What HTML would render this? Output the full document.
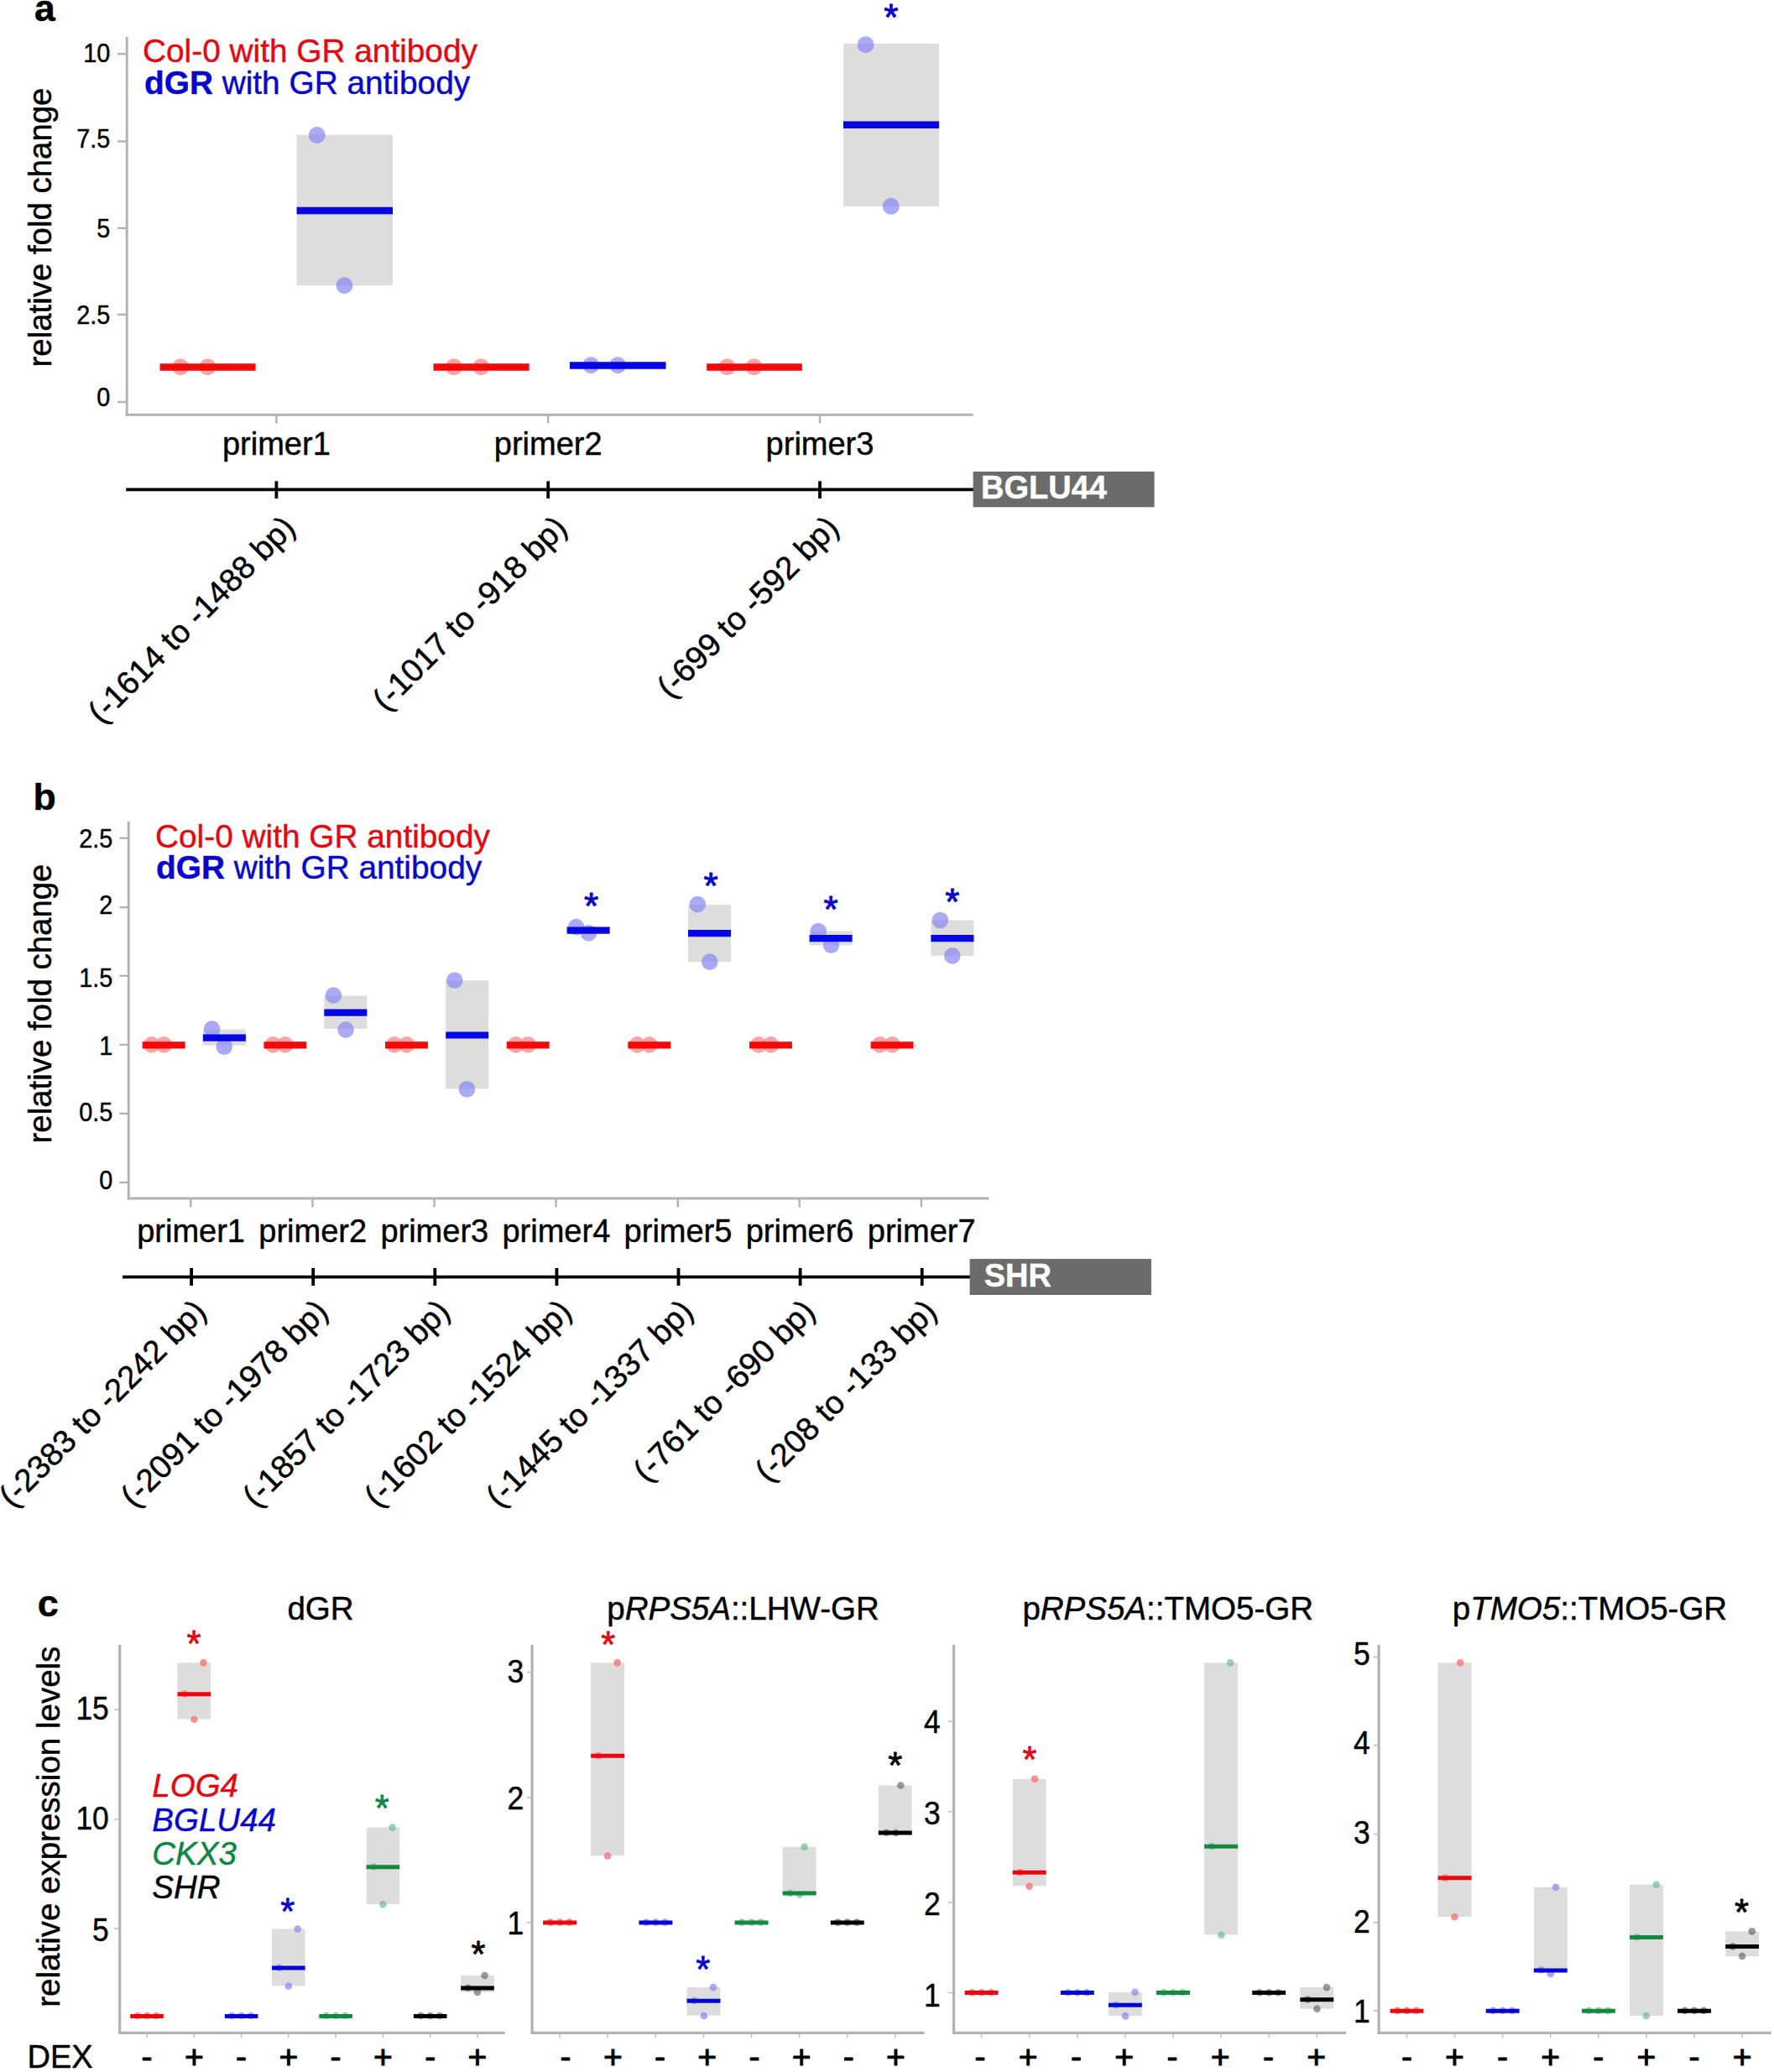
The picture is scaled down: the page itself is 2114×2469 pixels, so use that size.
<!DOCTYPE html>
<html lang="en">
<head>
<meta charset="utf-8">
<title>Figure</title>
<style>
html,body{margin:0;padding:0;background:#fff;}
body{width:2114px;height:2469px;overflow:hidden;}
svg{display:block;font-family:"Liberation Sans", sans-serif;}
text{stroke-width:0.45px;stroke-linejoin:round;}
</style>
</head>
<body>
<svg width="2114" height="2469" viewBox="0 0 2114 2469">
<rect x="0" y="0" width="2114" height="2469" fill="#ffffff"/>
<text x="41.0" y="24.6" font-size="44.5" fill="#000" stroke="#000" font-weight="bold">a</text>
<line x1="151.2" y1="44.0" x2="151.2" y2="495.6" stroke="#b2b2b2" stroke-width="2.9"/>
<line x1="149.7" y1="494.2" x2="1159.6" y2="494.2" stroke="#b2b2b2" stroke-width="2.9"/>
<line x1="140.0" y1="64.3" x2="151.0" y2="64.3" stroke="#b2b2b2" stroke-width="2.4"/>
<text x="0.0" y="0.0" font-size="31" fill="#000" stroke="#000" text-anchor="end" transform="translate(131.2 74.2) scale(0.93 1)">10</text>
<line x1="140.0" y1="168.5" x2="151.0" y2="168.5" stroke="#b2b2b2" stroke-width="2.4"/>
<text x="0.0" y="0.0" font-size="31" fill="#000" stroke="#000" text-anchor="end" transform="translate(131.2 176.1) scale(0.93 1)">7.5</text>
<line x1="140.0" y1="271.9" x2="151.0" y2="271.9" stroke="#b2b2b2" stroke-width="2.4"/>
<text x="0.0" y="0.0" font-size="31" fill="#000" stroke="#000" text-anchor="end" transform="translate(131.2 283.2) scale(0.93 1)">5</text>
<line x1="140.0" y1="374.9" x2="151.0" y2="374.9" stroke="#b2b2b2" stroke-width="2.4"/>
<text x="0.0" y="0.0" font-size="31" fill="#000" stroke="#000" text-anchor="end" transform="translate(131.2 385.7) scale(0.93 1)">2.5</text>
<line x1="140.0" y1="479.0" x2="151.0" y2="479.0" stroke="#b2b2b2" stroke-width="2.4"/>
<text x="0.0" y="0.0" font-size="31" fill="#000" stroke="#000" text-anchor="end" transform="translate(131.2 483.8) scale(0.93 1)">0</text>
<text x="0.0" y="0.0" font-size="38.4" fill="#000" stroke="#000" text-anchor="middle" transform="translate(60.5 271) rotate(-90)">relative fold change</text>
<text x="170.0" y="73.8" font-size="38.8" fill="#e20a12" stroke="#e20a12">Col-0 with GR antibody</text>
<text x="172" y="111.7" font-size="38.8" fill="#0808cc" stroke="#0808cc"><tspan font-weight="bold">dGR</tspan> with GR antibody</text>
<line x1="329.4" y1="494.2" x2="329.4" y2="504.5" stroke="#b2b2b2" stroke-width="2.4"/>
<text x="329.4" y="541.8" font-size="38" fill="#000" stroke="#000" text-anchor="middle">primer1</text>
<line x1="653.2" y1="494.2" x2="653.2" y2="504.5" stroke="#b2b2b2" stroke-width="2.4"/>
<text x="653.2" y="541.8" font-size="38" fill="#000" stroke="#000" text-anchor="middle">primer2</text>
<line x1="977.0" y1="494.2" x2="977.0" y2="504.5" stroke="#b2b2b2" stroke-width="2.4"/>
<text x="977.0" y="541.8" font-size="38" fill="#000" stroke="#000" text-anchor="middle">primer3</text>
<circle cx="215.0" cy="437.2" r="10" fill="#f87c7c" fill-opacity="0.69"/>
<circle cx="247.4" cy="437.2" r="10" fill="#f87c7c" fill-opacity="0.69"/>
<line x1="190.6" y1="437.6" x2="304.6" y2="437.6" stroke="#f20a0a" stroke-width="8.5"/>
<rect x="353.6" y="160.6" width="114.4" height="179.6" fill="#dddddd"/>
<circle cx="377.7" cy="161.0" r="10" fill="#8484f2" fill-opacity="0.69"/>
<circle cx="410.4" cy="340.2" r="10" fill="#8484f2" fill-opacity="0.69"/>
<line x1="353.6" y1="251.0" x2="468.0" y2="251.0" stroke="#0606e2" stroke-width="8.5"/>
<circle cx="540.9" cy="437.2" r="10" fill="#f87c7c" fill-opacity="0.69"/>
<circle cx="573.3" cy="437.2" r="10" fill="#f87c7c" fill-opacity="0.69"/>
<line x1="516.5" y1="437.6" x2="630.6" y2="437.6" stroke="#f20a0a" stroke-width="8.5"/>
<circle cx="704.2" cy="435.2" r="10" fill="#8484f2" fill-opacity="0.69"/>
<circle cx="736.2" cy="435.2" r="10" fill="#8484f2" fill-opacity="0.69"/>
<line x1="678.9" y1="435.6" x2="793.5" y2="435.6" stroke="#0606e2" stroke-width="8.5"/>
<circle cx="866.5" cy="437.2" r="10" fill="#f87c7c" fill-opacity="0.69"/>
<circle cx="898.5" cy="437.2" r="10" fill="#f87c7c" fill-opacity="0.69"/>
<line x1="842.2" y1="437.6" x2="955.8" y2="437.6" stroke="#f20a0a" stroke-width="8.5"/>
<rect x="1005.0" y="51.9" width="114.0" height="193.9" fill="#dddddd"/>
<circle cx="1031.6" cy="53.2" r="10" fill="#8484f2" fill-opacity="0.69"/>
<circle cx="1061.8" cy="245.8" r="10" fill="#8484f2" fill-opacity="0.69"/>
<line x1="1005.0" y1="148.8" x2="1119.0" y2="148.8" stroke="#0606e2" stroke-width="8.5"/>
<text x="1061.8" y="36.2" font-size="44" fill="#0808cc" stroke="#0808cc" text-anchor="middle" style="stroke-width:1.0px">*</text>
<line x1="150.2" y1="583.3" x2="1160.0" y2="583.3" stroke="#000" stroke-width="3.8"/>
<line x1="329.4" y1="573.3" x2="329.4" y2="594.0" stroke="#000" stroke-width="3.8"/>
<line x1="653.2" y1="573.3" x2="653.2" y2="594.0" stroke="#000" stroke-width="3.8"/>
<line x1="977.0" y1="573.3" x2="977.0" y2="594.0" stroke="#000" stroke-width="3.8"/>
<rect x="1159.6" y="561.9" width="216.0" height="42.4" fill="#6b6b6b"/>
<text x="1169.0" y="594.0" font-size="38" fill="#fff" stroke="#fff" font-weight="bold">BGLU44</text>
<text x="353.9" y="631.0" font-size="38.5" fill="#000" stroke="#000" text-anchor="end" transform="rotate(-45 353.9 631.0)">(-1614 to -1488 bp)</text>
<text x="677.7" y="631.0" font-size="38.5" fill="#000" stroke="#000" text-anchor="end" transform="rotate(-45 677.7 631.0)">(-1017 to -918 bp)</text>
<text x="1001.5" y="631.0" font-size="38.5" fill="#000" stroke="#000" text-anchor="end" transform="rotate(-45 1001.5 631.0)">(-699 to -592 bp)</text>
<text x="39.5" y="964.8" font-size="44.5" fill="#000" stroke="#000" font-weight="bold">b</text>
<line x1="153.2" y1="979.0" x2="153.2" y2="1429.4" stroke="#b2b2b2" stroke-width="2.9"/>
<line x1="151.8" y1="1428.0" x2="1178.6" y2="1428.0" stroke="#b2b2b2" stroke-width="2.9"/>
<line x1="142.3" y1="998.7" x2="153.1" y2="998.7" stroke="#b2b2b2" stroke-width="2.4"/>
<text x="0.0" y="0.0" font-size="31" fill="#000" stroke="#000" text-anchor="end" transform="translate(134.2 1010.4) scale(0.93 1)">2.5</text>
<line x1="142.3" y1="1081.1" x2="153.1" y2="1081.1" stroke="#b2b2b2" stroke-width="2.4"/>
<text x="0.0" y="0.0" font-size="31" fill="#000" stroke="#000" text-anchor="end" transform="translate(134.2 1088.5) scale(0.93 1)">2</text>
<line x1="142.3" y1="1162.8" x2="153.1" y2="1162.8" stroke="#b2b2b2" stroke-width="2.4"/>
<text x="0.0" y="0.0" font-size="31" fill="#000" stroke="#000" text-anchor="end" transform="translate(134.2 1176.0) scale(0.93 1)">1.5</text>
<line x1="142.3" y1="1244.9" x2="153.1" y2="1244.9" stroke="#b2b2b2" stroke-width="2.4"/>
<text x="0.0" y="0.0" font-size="31" fill="#000" stroke="#000" text-anchor="end" transform="translate(134.2 1257.0) scale(0.93 1)">1</text>
<line x1="142.3" y1="1327.0" x2="153.1" y2="1327.0" stroke="#b2b2b2" stroke-width="2.4"/>
<text x="0.0" y="0.0" font-size="31" fill="#000" stroke="#000" text-anchor="end" transform="translate(134.2 1336.4) scale(0.93 1)">0.5</text>
<line x1="142.3" y1="1409.0" x2="153.1" y2="1409.0" stroke="#b2b2b2" stroke-width="2.4"/>
<text x="0.0" y="0.0" font-size="31" fill="#000" stroke="#000" text-anchor="end" transform="translate(134.2 1417.4) scale(0.93 1)">0</text>
<text x="0.0" y="0.0" font-size="38.4" fill="#000" stroke="#000" text-anchor="middle" transform="translate(60.5 1196) rotate(-90)">relative fold change</text>
<text x="185.0" y="1009.7" font-size="38.8" fill="#e20a12" stroke="#e20a12">Col-0 with GR antibody</text>
<text x="186" y="1047.2" font-size="38.8" fill="#0808cc" stroke="#0808cc"><tspan font-weight="bold">dGR</tspan> with GR antibody</text>
<line x1="227.3" y1="1428.0" x2="227.3" y2="1438.5" stroke="#b2b2b2" stroke-width="2.4"/>
<text x="227.6" y="1480.3" font-size="38" fill="#000" stroke="#000" text-anchor="middle">primer1</text>
<line x1="372.4" y1="1428.0" x2="372.4" y2="1438.5" stroke="#b2b2b2" stroke-width="2.4"/>
<text x="372.7" y="1480.3" font-size="38" fill="#000" stroke="#000" text-anchor="middle">primer2</text>
<line x1="517.5" y1="1428.0" x2="517.5" y2="1438.5" stroke="#b2b2b2" stroke-width="2.4"/>
<text x="517.8" y="1480.3" font-size="38" fill="#000" stroke="#000" text-anchor="middle">primer3</text>
<line x1="662.6" y1="1428.0" x2="662.6" y2="1438.5" stroke="#b2b2b2" stroke-width="2.4"/>
<text x="662.9" y="1480.3" font-size="38" fill="#000" stroke="#000" text-anchor="middle">primer4</text>
<line x1="807.7" y1="1428.0" x2="807.7" y2="1438.5" stroke="#b2b2b2" stroke-width="2.4"/>
<text x="808.0" y="1480.3" font-size="38" fill="#000" stroke="#000" text-anchor="middle">primer5</text>
<line x1="952.8" y1="1428.0" x2="952.8" y2="1438.5" stroke="#b2b2b2" stroke-width="2.4"/>
<text x="953.1" y="1480.3" font-size="38" fill="#000" stroke="#000" text-anchor="middle">primer6</text>
<line x1="1097.9" y1="1428.0" x2="1097.9" y2="1438.5" stroke="#b2b2b2" stroke-width="2.4"/>
<text x="1098.2" y="1480.3" font-size="38" fill="#000" stroke="#000" text-anchor="middle">primer7</text>
<circle cx="180.7" cy="1244.9" r="9.8" fill="#f87c7c" fill-opacity="0.69"/>
<circle cx="195.3" cy="1244.9" r="9.8" fill="#f87c7c" fill-opacity="0.69"/>
<line x1="169.7" y1="1245.3" x2="220.6" y2="1245.3" stroke="#f20a0a" stroke-width="8.2"/>
<circle cx="325.4" cy="1244.9" r="9.8" fill="#f87c7c" fill-opacity="0.69"/>
<circle cx="340.0" cy="1244.9" r="9.8" fill="#f87c7c" fill-opacity="0.69"/>
<line x1="314.4" y1="1245.3" x2="365.2" y2="1245.3" stroke="#f20a0a" stroke-width="8.2"/>
<circle cx="470.0" cy="1244.9" r="9.8" fill="#f87c7c" fill-opacity="0.69"/>
<circle cx="484.6" cy="1244.9" r="9.8" fill="#f87c7c" fill-opacity="0.69"/>
<line x1="459.0" y1="1245.3" x2="509.9" y2="1245.3" stroke="#f20a0a" stroke-width="8.2"/>
<circle cx="614.7" cy="1244.9" r="9.8" fill="#f87c7c" fill-opacity="0.69"/>
<circle cx="629.3" cy="1244.9" r="9.8" fill="#f87c7c" fill-opacity="0.69"/>
<line x1="603.7" y1="1245.3" x2="654.6" y2="1245.3" stroke="#f20a0a" stroke-width="8.2"/>
<circle cx="759.3" cy="1244.9" r="9.8" fill="#f87c7c" fill-opacity="0.69"/>
<circle cx="773.9" cy="1244.9" r="9.8" fill="#f87c7c" fill-opacity="0.69"/>
<line x1="748.3" y1="1245.3" x2="799.2" y2="1245.3" stroke="#f20a0a" stroke-width="8.2"/>
<circle cx="904.0" cy="1244.9" r="9.8" fill="#f87c7c" fill-opacity="0.69"/>
<circle cx="918.6" cy="1244.9" r="9.8" fill="#f87c7c" fill-opacity="0.69"/>
<line x1="893.0" y1="1245.3" x2="943.9" y2="1245.3" stroke="#f20a0a" stroke-width="8.2"/>
<circle cx="1048.6" cy="1244.9" r="9.8" fill="#f87c7c" fill-opacity="0.69"/>
<circle cx="1063.2" cy="1244.9" r="9.8" fill="#f87c7c" fill-opacity="0.69"/>
<line x1="1037.6" y1="1245.3" x2="1088.5" y2="1245.3" stroke="#f20a0a" stroke-width="8.2"/>
<rect x="241.9" y="1226.7" width="51.0" height="19.0" fill="#dddddd"/>
<circle cx="252.6" cy="1226.0" r="9.8" fill="#8484f2" fill-opacity="0.69"/>
<circle cx="267.2" cy="1247.3" r="9.8" fill="#8484f2" fill-opacity="0.69"/>
<line x1="241.9" y1="1236.6" x2="292.9" y2="1236.6" stroke="#0606e2" stroke-width="8.2"/>
<rect x="386.3" y="1186.5" width="51.0" height="39.5" fill="#dddddd"/>
<circle cx="397.4" cy="1186.1" r="9.8" fill="#8484f2" fill-opacity="0.69"/>
<circle cx="412.0" cy="1227.1" r="9.8" fill="#8484f2" fill-opacity="0.69"/>
<line x1="386.3" y1="1206.6" x2="437.3" y2="1206.6" stroke="#0606e2" stroke-width="8.2"/>
<rect x="531.2" y="1168.3" width="51.0" height="129.1" fill="#dddddd"/>
<circle cx="541.8" cy="1168.3" r="9.8" fill="#8484f2" fill-opacity="0.69"/>
<circle cx="556.4" cy="1297.8" r="9.8" fill="#8484f2" fill-opacity="0.69"/>
<line x1="531.2" y1="1233.5" x2="582.2" y2="1233.5" stroke="#0606e2" stroke-width="8.2"/>
<rect x="675.6" y="1104.6" width="51.0" height="7.2" fill="#dddddd"/>
<circle cx="686.6" cy="1104.6" r="9.8" fill="#8484f2" fill-opacity="0.69"/>
<circle cx="701.5" cy="1111.8" r="9.8" fill="#8484f2" fill-opacity="0.69"/>
<line x1="675.6" y1="1108.6" x2="726.6" y2="1108.6" stroke="#0606e2" stroke-width="8.2"/>
<text x="704.6" y="1095.3" font-size="44" fill="#0808cc" stroke="#0808cc" text-anchor="middle" style="stroke-width:1.0px">*</text>
<rect x="820.0" y="1078.0" width="51.0" height="68.1" fill="#dddddd"/>
<circle cx="831.3" cy="1077.6" r="9.8" fill="#8484f2" fill-opacity="0.69"/>
<circle cx="845.8" cy="1146.1" r="9.8" fill="#8484f2" fill-opacity="0.69"/>
<line x1="820.0" y1="1112.2" x2="871.0" y2="1112.2" stroke="#0606e2" stroke-width="8.2"/>
<text x="847.1" y="1070.5" font-size="44" fill="#0808cc" stroke="#0808cc" text-anchor="middle" style="stroke-width:1.0px">*</text>
<rect x="964.6" y="1109.6" width="51.0" height="16.7" fill="#dddddd"/>
<circle cx="975.2" cy="1109.6" r="9.8" fill="#8484f2" fill-opacity="0.69"/>
<circle cx="990.5" cy="1126.3" r="9.8" fill="#8484f2" fill-opacity="0.69"/>
<line x1="964.6" y1="1118.1" x2="1015.6" y2="1118.1" stroke="#0606e2" stroke-width="8.2"/>
<text x="990.0" y="1099.3" font-size="44" fill="#0808cc" stroke="#0808cc" text-anchor="middle" style="stroke-width:1.0px">*</text>
<rect x="1109.4" y="1096.5" width="51.0" height="42.4" fill="#dddddd"/>
<circle cx="1120.4" cy="1096.5" r="9.8" fill="#8484f2" fill-opacity="0.69"/>
<circle cx="1134.8" cy="1138.9" r="9.8" fill="#8484f2" fill-opacity="0.69"/>
<line x1="1109.4" y1="1118.1" x2="1160.4" y2="1118.1" stroke="#0606e2" stroke-width="8.2"/>
<text x="1134.8" y="1089.8" font-size="44" fill="#0808cc" stroke="#0808cc" text-anchor="middle" style="stroke-width:1.0px">*</text>
<line x1="146.0" y1="1521.6" x2="1156.0" y2="1521.6" stroke="#000" stroke-width="3.8"/>
<line x1="228.1" y1="1511.0" x2="228.1" y2="1532.0" stroke="#000" stroke-width="3.8"/>
<line x1="373.2" y1="1511.0" x2="373.2" y2="1532.0" stroke="#000" stroke-width="3.8"/>
<line x1="518.3" y1="1511.0" x2="518.3" y2="1532.0" stroke="#000" stroke-width="3.8"/>
<line x1="663.4" y1="1511.0" x2="663.4" y2="1532.0" stroke="#000" stroke-width="3.8"/>
<line x1="808.5" y1="1511.0" x2="808.5" y2="1532.0" stroke="#000" stroke-width="3.8"/>
<line x1="953.6" y1="1511.0" x2="953.6" y2="1532.0" stroke="#000" stroke-width="3.8"/>
<line x1="1098.7" y1="1511.0" x2="1098.7" y2="1532.0" stroke="#000" stroke-width="3.8"/>
<rect x="1155.6" y="1500.1" width="216.4" height="42.9" fill="#6b6b6b"/>
<text x="1172.7" y="1533.0" font-size="38" fill="#fff" stroke="#fff" font-weight="bold">SHR</text>
<text x="247.8" y="1565.0" font-size="38.5" fill="#000" stroke="#000" text-anchor="end" transform="rotate(-45 247.8 1565.0)">(-2383 to -2242 bp)</text>
<text x="392.9" y="1565.0" font-size="38.5" fill="#000" stroke="#000" text-anchor="end" transform="rotate(-45 392.9 1565.0)">(-2091 to -1978 bp)</text>
<text x="538.0" y="1565.0" font-size="38.5" fill="#000" stroke="#000" text-anchor="end" transform="rotate(-45 538.0 1565.0)">(-1857 to -1723 bp)</text>
<text x="683.1" y="1565.0" font-size="38.5" fill="#000" stroke="#000" text-anchor="end" transform="rotate(-45 683.1 1565.0)">(-1602 to -1524 bp)</text>
<text x="828.2" y="1565.0" font-size="38.5" fill="#000" stroke="#000" text-anchor="end" transform="rotate(-45 828.2 1565.0)">(-1445 to -1337 bp)</text>
<text x="973.3" y="1565.0" font-size="38.5" fill="#000" stroke="#000" text-anchor="end" transform="rotate(-45 973.3 1565.0)">(-761 to -690 bp)</text>
<text x="1118.4" y="1565.0" font-size="38.5" fill="#000" stroke="#000" text-anchor="end" transform="rotate(-45 1118.4 1565.0)">(-208 to -133 bp)</text>
<text x="44.8" y="1926.0" font-size="45" fill="#000" stroke="#000" font-weight="bold">c</text>
<text x="0.0" y="0.0" font-size="38.5" fill="#000" stroke="#000" text-anchor="middle" transform="translate(71 2176.7) rotate(-90)">relative expression levels</text>
<text x="32.5" y="2463.7" font-size="38" fill="#000" stroke="#000">DEX</text>
<line x1="142.7" y1="1960.0" x2="142.7" y2="2423.9" stroke="#b2b2b2" stroke-width="3.2"/>
<line x1="141.1" y1="2422.3" x2="601.8" y2="2422.3" stroke="#b2b2b2" stroke-width="3.2"/>
<line x1="136.5" y1="2037.2" x2="142.7" y2="2037.2" stroke="#bcbcbc" stroke-width="1.6"/>
<line x1="136.5" y1="2167.8" x2="142.7" y2="2167.8" stroke="#bcbcbc" stroke-width="1.6"/>
<line x1="136.5" y1="2298.1" x2="142.7" y2="2298.1" stroke="#bcbcbc" stroke-width="1.6"/>
<text x="0.0" y="0.0" font-size="38.5" fill="#000" stroke="#000" text-anchor="end" transform="translate(129.8 2048.6) scale(0.92 1)">15</text>
<text x="0.0" y="0.0" font-size="38.5" fill="#000" stroke="#000" text-anchor="end" transform="translate(129.8 2180.4) scale(0.92 1)">10</text>
<text x="0.0" y="0.0" font-size="38.5" fill="#000" stroke="#000" text-anchor="end" transform="translate(129.8 2312.5) scale(0.92 1)">5</text>
<text x="382.0" y="1929.8" font-size="38.5" text-anchor="middle" stroke="#000">dGR</text>
<line x1="175.0" y1="2422.3" x2="175.0" y2="2428.4" stroke="#c0c0c0" stroke-width="1.5"/>
<text x="175.0" y="2463.8" font-size="39" fill="#000" stroke="#000" text-anchor="middle" style="stroke-width:1.0px">-</text>
<line x1="231.3" y1="2422.3" x2="231.3" y2="2428.4" stroke="#c0c0c0" stroke-width="1.5"/>
<text x="231.3" y="2463.8" font-size="39" fill="#000" stroke="#000" text-anchor="middle" style="stroke-width:1.0px">+</text>
<line x1="287.6" y1="2422.3" x2="287.6" y2="2428.4" stroke="#c0c0c0" stroke-width="1.5"/>
<text x="287.6" y="2463.8" font-size="39" fill="#000" stroke="#000" text-anchor="middle" style="stroke-width:1.0px">-</text>
<line x1="343.8" y1="2422.3" x2="343.8" y2="2428.4" stroke="#c0c0c0" stroke-width="1.5"/>
<text x="343.8" y="2463.8" font-size="39" fill="#000" stroke="#000" text-anchor="middle" style="stroke-width:1.0px">+</text>
<line x1="400.1" y1="2422.3" x2="400.1" y2="2428.4" stroke="#c0c0c0" stroke-width="1.5"/>
<text x="400.1" y="2463.8" font-size="39" fill="#000" stroke="#000" text-anchor="middle" style="stroke-width:1.0px">-</text>
<line x1="456.4" y1="2422.3" x2="456.4" y2="2428.4" stroke="#c0c0c0" stroke-width="1.5"/>
<text x="456.4" y="2463.8" font-size="39" fill="#000" stroke="#000" text-anchor="middle" style="stroke-width:1.0px">+</text>
<line x1="512.7" y1="2422.3" x2="512.7" y2="2428.4" stroke="#c0c0c0" stroke-width="1.5"/>
<text x="512.7" y="2463.8" font-size="39" fill="#000" stroke="#000" text-anchor="middle" style="stroke-width:1.0px">-</text>
<line x1="569.0" y1="2422.3" x2="569.0" y2="2428.4" stroke="#c0c0c0" stroke-width="1.5"/>
<text x="569.0" y="2463.8" font-size="39" fill="#000" stroke="#000" text-anchor="middle" style="stroke-width:1.0px">+</text>
<circle cx="163.7" cy="2402.0" r="4.3" fill="#f87c7c" fill-opacity="0.85"/>
<circle cx="175.0" cy="2402.0" r="4.3" fill="#f87c7c" fill-opacity="0.85"/>
<circle cx="186.3" cy="2402.0" r="4.3" fill="#f87c7c" fill-opacity="0.85"/>
<line x1="155.2" y1="2402.4" x2="194.8" y2="2402.4" stroke="#e8080e" stroke-width="5.0"/>
<rect x="211.5" y="1981.4" width="39.6" height="67.1" fill="#dddddd"/>
<circle cx="242.4" cy="1981.4" r="4.3" fill="#f87c7c" fill-opacity="0.85"/>
<circle cx="231.3" cy="2048.8" r="4.3" fill="#f87c7c" fill-opacity="0.85"/>
<circle cx="220.0" cy="2018.5" r="4.3" fill="#f87c7c" fill-opacity="0.85"/>
<line x1="211.5" y1="2018.7" x2="251.1" y2="2018.7" stroke="#e8080e" stroke-width="5.0"/>
<circle cx="276.3" cy="2402.0" r="4.3" fill="#8484f2" fill-opacity="0.70"/>
<circle cx="287.6" cy="2402.0" r="4.3" fill="#8484f2" fill-opacity="0.70"/>
<circle cx="298.9" cy="2402.0" r="4.3" fill="#8484f2" fill-opacity="0.70"/>
<line x1="267.8" y1="2402.4" x2="307.4" y2="2402.4" stroke="#0505d6" stroke-width="5.0"/>
<rect x="324.0" y="2298.5" width="39.6" height="67.8" fill="#dddddd"/>
<circle cx="354.6" cy="2298.5" r="4.3" fill="#8484f2" fill-opacity="0.70"/>
<circle cx="343.8" cy="2366.7" r="4.3" fill="#8484f2" fill-opacity="0.70"/>
<circle cx="332.6" cy="2344.7" r="4.3" fill="#8484f2" fill-opacity="0.70"/>
<line x1="324.0" y1="2344.9" x2="363.6" y2="2344.9" stroke="#0505d6" stroke-width="5.0"/>
<circle cx="388.8" cy="2402.0" r="4.3" fill="#5cb884" fill-opacity="0.62"/>
<circle cx="400.1" cy="2402.0" r="4.3" fill="#5cb884" fill-opacity="0.62"/>
<circle cx="411.4" cy="2402.0" r="4.3" fill="#5cb884" fill-opacity="0.62"/>
<line x1="380.3" y1="2402.4" x2="419.9" y2="2402.4" stroke="#148a41" stroke-width="5.0"/>
<rect x="436.6" y="2177.6" width="39.6" height="91.3" fill="#dddddd"/>
<circle cx="467.5" cy="2177.6" r="4.3" fill="#5cb884" fill-opacity="0.62"/>
<circle cx="456.4" cy="2269.3" r="4.3" fill="#5cb884" fill-opacity="0.62"/>
<circle cx="445.2" cy="2224.5" r="4.3" fill="#5cb884" fill-opacity="0.62"/>
<line x1="436.6" y1="2224.7" x2="476.2" y2="2224.7" stroke="#148a41" stroke-width="5.0"/>
<circle cx="501.4" cy="2402.0" r="4.3" fill="#5a5a5a" fill-opacity="0.62"/>
<circle cx="512.7" cy="2402.0" r="4.3" fill="#5a5a5a" fill-opacity="0.62"/>
<circle cx="524.0" cy="2402.0" r="4.3" fill="#5a5a5a" fill-opacity="0.62"/>
<line x1="492.9" y1="2402.4" x2="532.5" y2="2402.4" stroke="#000000" stroke-width="5.0"/>
<rect x="549.2" y="2354.0" width="39.6" height="19.9" fill="#dddddd"/>
<circle cx="577.6" cy="2354.0" r="4.3" fill="#5a5a5a" fill-opacity="0.62"/>
<circle cx="568.9" cy="2373.9" r="4.3" fill="#5a5a5a" fill-opacity="0.62"/>
<circle cx="557.7" cy="2368.8" r="4.3" fill="#5a5a5a" fill-opacity="0.62"/>
<line x1="549.2" y1="2369.0" x2="588.8" y2="2369.0" stroke="#000000" stroke-width="5.0"/>
<text x="230.9" y="1974.2" font-size="43.5" fill="#e20a12" stroke="#e20a12" text-anchor="middle" style="stroke-width:0.8px">*</text>
<text x="342.7" y="2292.7" font-size="43.5" fill="#0808cc" stroke="#0808cc" text-anchor="middle" style="stroke-width:0.8px">*</text>
<text x="455.3" y="2170.3" font-size="43.5" fill="#118543" stroke="#118543" text-anchor="middle" style="stroke-width:0.8px">*</text>
<text x="570.0" y="2344.1" font-size="43.5" fill="#000" stroke="#000" text-anchor="middle" style="stroke-width:0.8px">*</text>
<text x="181.3" y="2141.3" font-size="38.5" fill="#e20a12" stroke="#e20a12" font-style="italic">LOG4</text>
<text x="181.3" y="2181.6" font-size="38.5" fill="#0808cc" stroke="#0808cc" font-style="italic">BGLU44</text>
<text x="181.3" y="2221.9" font-size="38.5" fill="#118543" stroke="#118543" font-style="italic">CKX3</text>
<text x="181.3" y="2262.2" font-size="38.5" fill="#000" stroke="#000" font-style="italic">SHR</text>
<line x1="634.1" y1="1960.0" x2="634.1" y2="2423.9" stroke="#b2b2b2" stroke-width="3.2"/>
<line x1="632.5" y1="2422.3" x2="1101.5" y2="2422.3" stroke="#b2b2b2" stroke-width="3.2"/>
<line x1="627.9" y1="1992.5" x2="634.1" y2="1992.5" stroke="#bcbcbc" stroke-width="1.6"/>
<line x1="627.9" y1="2141.9" x2="634.1" y2="2141.9" stroke="#bcbcbc" stroke-width="1.6"/>
<line x1="627.9" y1="2290.9" x2="634.1" y2="2290.9" stroke="#bcbcbc" stroke-width="1.6"/>
<text x="0.0" y="0.0" font-size="38.5" fill="#000" stroke="#000" text-anchor="end" transform="translate(624.2 2005.4) scale(0.92 1)">3</text>
<text x="0.0" y="0.0" font-size="38.5" fill="#000" stroke="#000" text-anchor="end" transform="translate(624.2 2155.7) scale(0.92 1)">2</text>
<text x="0.0" y="0.0" font-size="38.5" fill="#000" stroke="#000" text-anchor="end" transform="translate(624.2 2305.3) scale(0.92 1)">1</text>
<text x="885.5" y="1929.8" font-size="38.5" text-anchor="middle" stroke="#000">p<tspan font-style="italic">RPS5A</tspan>::LHW-GR</text>
<line x1="667.1" y1="2422.3" x2="667.1" y2="2428.4" stroke="#c0c0c0" stroke-width="1.5"/>
<text x="674.1" y="2463.8" font-size="39" fill="#000" stroke="#000" text-anchor="middle" style="stroke-width:1.0px">-</text>
<line x1="724.2" y1="2422.3" x2="724.2" y2="2428.4" stroke="#c0c0c0" stroke-width="1.5"/>
<text x="730.3" y="2463.8" font-size="39" fill="#000" stroke="#000" text-anchor="middle" style="stroke-width:1.0px">+</text>
<line x1="781.3" y1="2422.3" x2="781.3" y2="2428.4" stroke="#c0c0c0" stroke-width="1.5"/>
<text x="786.5" y="2463.8" font-size="39" fill="#000" stroke="#000" text-anchor="middle" style="stroke-width:1.0px">-</text>
<line x1="838.4" y1="2422.3" x2="838.4" y2="2428.4" stroke="#c0c0c0" stroke-width="1.5"/>
<text x="842.7" y="2463.8" font-size="39" fill="#000" stroke="#000" text-anchor="middle" style="stroke-width:1.0px">+</text>
<line x1="895.5" y1="2422.3" x2="895.5" y2="2428.4" stroke="#c0c0c0" stroke-width="1.5"/>
<text x="898.9" y="2463.8" font-size="39" fill="#000" stroke="#000" text-anchor="middle" style="stroke-width:1.0px">-</text>
<line x1="952.6" y1="2422.3" x2="952.6" y2="2428.4" stroke="#c0c0c0" stroke-width="1.5"/>
<text x="955.1" y="2463.8" font-size="39" fill="#000" stroke="#000" text-anchor="middle" style="stroke-width:1.0px">+</text>
<line x1="1009.7" y1="2422.3" x2="1009.7" y2="2428.4" stroke="#c0c0c0" stroke-width="1.5"/>
<text x="1011.3" y="2463.8" font-size="39" fill="#000" stroke="#000" text-anchor="middle" style="stroke-width:1.0px">-</text>
<line x1="1066.8" y1="2422.3" x2="1066.8" y2="2428.4" stroke="#c0c0c0" stroke-width="1.5"/>
<text x="1067.5" y="2463.8" font-size="39" fill="#000" stroke="#000" text-anchor="middle" style="stroke-width:1.0px">+</text>
<circle cx="655.8" cy="2290.6" r="4.3" fill="#f87c7c" fill-opacity="0.85"/>
<circle cx="667.1" cy="2290.6" r="4.3" fill="#f87c7c" fill-opacity="0.85"/>
<circle cx="678.4" cy="2290.6" r="4.3" fill="#f87c7c" fill-opacity="0.85"/>
<line x1="647.1" y1="2291.0" x2="687.1" y2="2291.0" stroke="#e8080e" stroke-width="5.0"/>
<rect x="704.2" y="1981.4" width="39.9" height="229.8" fill="#dddddd"/>
<circle cx="735.6" cy="1981.4" r="4.3" fill="#f87c7c" fill-opacity="0.85"/>
<circle cx="724.1" cy="2211.5" r="4.3" fill="#f87c7c" fill-opacity="0.85"/>
<circle cx="712.9" cy="2092.1" r="4.3" fill="#f87c7c" fill-opacity="0.85"/>
<line x1="704.2" y1="2092.3" x2="744.2" y2="2092.3" stroke="#e8080e" stroke-width="5.0"/>
<circle cx="770.0" cy="2290.6" r="4.3" fill="#8484f2" fill-opacity="0.70"/>
<circle cx="781.3" cy="2290.6" r="4.3" fill="#8484f2" fill-opacity="0.70"/>
<circle cx="792.6" cy="2290.6" r="4.3" fill="#8484f2" fill-opacity="0.70"/>
<line x1="761.4" y1="2291.0" x2="801.3" y2="2291.0" stroke="#0505d6" stroke-width="5.0"/>
<rect x="818.5" y="2368.1" width="39.9" height="33.6" fill="#dddddd"/>
<circle cx="850.0" cy="2368.1" r="4.3" fill="#8484f2" fill-opacity="0.70"/>
<circle cx="838.8" cy="2402.0" r="4.3" fill="#8484f2" fill-opacity="0.70"/>
<circle cx="827.3" cy="2384.0" r="4.3" fill="#8484f2" fill-opacity="0.70"/>
<line x1="818.5" y1="2384.2" x2="858.4" y2="2384.2" stroke="#0505d6" stroke-width="5.0"/>
<circle cx="884.2" cy="2290.6" r="4.3" fill="#5cb884" fill-opacity="0.62"/>
<circle cx="895.5" cy="2290.6" r="4.3" fill="#5cb884" fill-opacity="0.62"/>
<circle cx="906.8" cy="2290.6" r="4.3" fill="#5cb884" fill-opacity="0.62"/>
<line x1="875.5" y1="2291.0" x2="915.5" y2="2291.0" stroke="#148a41" stroke-width="5.0"/>
<rect x="932.6" y="2200.7" width="39.9" height="55.8" fill="#dddddd"/>
<circle cx="958.6" cy="2200.7" r="4.3" fill="#5cb884" fill-opacity="0.62"/>
<circle cx="952.8" cy="2257.7" r="4.3" fill="#5cb884" fill-opacity="0.62"/>
<circle cx="941.3" cy="2255.9" r="4.3" fill="#5cb884" fill-opacity="0.62"/>
<line x1="932.6" y1="2256.1" x2="972.6" y2="2256.1" stroke="#148a41" stroke-width="5.0"/>
<circle cx="998.4" cy="2290.6" r="4.3" fill="#5a5a5a" fill-opacity="0.62"/>
<circle cx="1009.7" cy="2290.6" r="4.3" fill="#5a5a5a" fill-opacity="0.62"/>
<circle cx="1021.0" cy="2290.6" r="4.3" fill="#5a5a5a" fill-opacity="0.62"/>
<line x1="989.8" y1="2291.0" x2="1029.7" y2="2291.0" stroke="#000000" stroke-width="5.0"/>
<rect x="1046.8" y="2127.5" width="39.9" height="56.9" fill="#dddddd"/>
<circle cx="1073.3" cy="2127.5" r="4.3" fill="#5a5a5a" fill-opacity="0.62"/>
<circle cx="1067.5" cy="2184.0" r="4.3" fill="#5a5a5a" fill-opacity="0.62"/>
<circle cx="1056.4" cy="2183.8" r="4.3" fill="#5a5a5a" fill-opacity="0.62"/>
<line x1="1046.8" y1="2184.0" x2="1086.8" y2="2184.0" stroke="#000000" stroke-width="5.0"/>
<text x="724.8" y="1975.3" font-size="43.5" fill="#e20a12" stroke="#e20a12" text-anchor="middle" style="stroke-width:0.8px">*</text>
<text x="837.7" y="2362.0" font-size="43.5" fill="#0808cc" stroke="#0808cc" text-anchor="middle" style="stroke-width:0.8px">*</text>
<text x="1066.8" y="2119.1" font-size="43.5" fill="#000" stroke="#000" text-anchor="middle" style="stroke-width:0.8px">*</text>
<line x1="1136.6" y1="1960.0" x2="1136.6" y2="2423.9" stroke="#b2b2b2" stroke-width="3.2"/>
<line x1="1135.0" y1="2422.3" x2="1604.0" y2="2422.3" stroke="#b2b2b2" stroke-width="3.2"/>
<line x1="1130.4" y1="2051.3" x2="1136.6" y2="2051.3" stroke="#bcbcbc" stroke-width="1.6"/>
<line x1="1130.4" y1="2158.8" x2="1136.6" y2="2158.8" stroke="#bcbcbc" stroke-width="1.6"/>
<line x1="1130.4" y1="2267.0" x2="1136.6" y2="2267.0" stroke="#bcbcbc" stroke-width="1.6"/>
<line x1="1130.4" y1="2374.5" x2="1136.6" y2="2374.5" stroke="#bcbcbc" stroke-width="1.6"/>
<text x="0.0" y="0.0" font-size="38.5" fill="#000" stroke="#000" text-anchor="end" transform="translate(1120.6 2064.6) scale(0.92 1)">4</text>
<text x="0.0" y="0.0" font-size="38.5" fill="#000" stroke="#000" text-anchor="end" transform="translate(1120.6 2173.5) scale(0.92 1)">3</text>
<text x="0.0" y="0.0" font-size="38.5" fill="#000" stroke="#000" text-anchor="end" transform="translate(1120.6 2282.3) scale(0.92 1)">2</text>
<text x="0.0" y="0.0" font-size="38.5" fill="#000" stroke="#000" text-anchor="end" transform="translate(1120.6 2391.2) scale(0.92 1)">1</text>
<text x="1391.7" y="1929.8" font-size="38.5" text-anchor="middle" stroke="#000">p<tspan font-style="italic">RPS5A</tspan>::TMO5-GR</text>
<line x1="1169.6" y1="2422.3" x2="1169.6" y2="2428.4" stroke="#c0c0c0" stroke-width="1.5"/>
<text x="1167.9" y="2463.8" font-size="39" fill="#000" stroke="#000" text-anchor="middle" style="stroke-width:1.0px">-</text>
<line x1="1226.7" y1="2422.3" x2="1226.7" y2="2428.4" stroke="#c0c0c0" stroke-width="1.5"/>
<text x="1225.2" y="2463.8" font-size="39" fill="#000" stroke="#000" text-anchor="middle" style="stroke-width:1.0px">+</text>
<line x1="1283.8" y1="2422.3" x2="1283.8" y2="2428.4" stroke="#c0c0c0" stroke-width="1.5"/>
<text x="1282.4" y="2463.8" font-size="39" fill="#000" stroke="#000" text-anchor="middle" style="stroke-width:1.0px">-</text>
<line x1="1340.9" y1="2422.3" x2="1340.9" y2="2428.4" stroke="#c0c0c0" stroke-width="1.5"/>
<text x="1339.7" y="2463.8" font-size="39" fill="#000" stroke="#000" text-anchor="middle" style="stroke-width:1.0px">+</text>
<line x1="1398.0" y1="2422.3" x2="1398.0" y2="2428.4" stroke="#c0c0c0" stroke-width="1.5"/>
<text x="1396.9" y="2463.8" font-size="39" fill="#000" stroke="#000" text-anchor="middle" style="stroke-width:1.0px">-</text>
<line x1="1455.1" y1="2422.3" x2="1455.1" y2="2428.4" stroke="#c0c0c0" stroke-width="1.5"/>
<text x="1454.2" y="2463.8" font-size="39" fill="#000" stroke="#000" text-anchor="middle" style="stroke-width:1.0px">+</text>
<line x1="1512.2" y1="2422.3" x2="1512.2" y2="2428.4" stroke="#c0c0c0" stroke-width="1.5"/>
<text x="1511.5" y="2463.8" font-size="39" fill="#000" stroke="#000" text-anchor="middle" style="stroke-width:1.0px">-</text>
<line x1="1569.3" y1="2422.3" x2="1569.3" y2="2428.4" stroke="#c0c0c0" stroke-width="1.5"/>
<text x="1568.7" y="2463.8" font-size="39" fill="#000" stroke="#000" text-anchor="middle" style="stroke-width:1.0px">+</text>
<circle cx="1158.3" cy="2374.2" r="4.3" fill="#f87c7c" fill-opacity="0.85"/>
<circle cx="1169.6" cy="2374.2" r="4.3" fill="#f87c7c" fill-opacity="0.85"/>
<circle cx="1180.9" cy="2374.2" r="4.3" fill="#f87c7c" fill-opacity="0.85"/>
<line x1="1149.6" y1="2374.6" x2="1189.5" y2="2374.6" stroke="#e8080e" stroke-width="5.0"/>
<rect x="1206.7" y="2119.9" width="39.9" height="127.4" fill="#dddddd"/>
<circle cx="1233.1" cy="2119.9" r="4.3" fill="#f87c7c" fill-opacity="0.85"/>
<circle cx="1226.6" cy="2247.6" r="4.3" fill="#f87c7c" fill-opacity="0.85"/>
<circle cx="1215.4" cy="2231.0" r="4.3" fill="#f87c7c" fill-opacity="0.85"/>
<line x1="1206.7" y1="2231.2" x2="1246.6" y2="2231.2" stroke="#e8080e" stroke-width="5.0"/>
<circle cx="1272.5" cy="2374.2" r="4.3" fill="#8484f2" fill-opacity="0.70"/>
<circle cx="1283.8" cy="2374.2" r="4.3" fill="#8484f2" fill-opacity="0.70"/>
<circle cx="1295.1" cy="2374.2" r="4.3" fill="#8484f2" fill-opacity="0.70"/>
<line x1="1263.8" y1="2374.6" x2="1303.8" y2="2374.6" stroke="#0505d6" stroke-width="5.0"/>
<rect x="1320.9" y="2374.2" width="39.9" height="27.8" fill="#dddddd"/>
<circle cx="1352.5" cy="2373.9" r="4.3" fill="#8484f2" fill-opacity="0.70"/>
<circle cx="1341.0" cy="2402.4" r="4.3" fill="#8484f2" fill-opacity="0.70"/>
<circle cx="1329.4" cy="2389.0" r="4.3" fill="#8484f2" fill-opacity="0.70"/>
<line x1="1320.9" y1="2389.2" x2="1360.8" y2="2389.2" stroke="#0505d6" stroke-width="5.0"/>
<circle cx="1386.7" cy="2374.2" r="4.3" fill="#5cb884" fill-opacity="0.62"/>
<circle cx="1398.0" cy="2374.2" r="4.3" fill="#5cb884" fill-opacity="0.62"/>
<circle cx="1409.3" cy="2374.2" r="4.3" fill="#5cb884" fill-opacity="0.62"/>
<line x1="1378.0" y1="2374.6" x2="1418.0" y2="2374.6" stroke="#148a41" stroke-width="5.0"/>
<rect x="1435.1" y="1981.4" width="39.9" height="323.9" fill="#dddddd"/>
<circle cx="1466.2" cy="1981.4" r="4.3" fill="#5cb884" fill-opacity="0.62"/>
<circle cx="1455.4" cy="2305.7" r="4.3" fill="#5cb884" fill-opacity="0.62"/>
<circle cx="1443.8" cy="2200.0" r="4.3" fill="#5cb884" fill-opacity="0.62"/>
<line x1="1435.1" y1="2200.2" x2="1475.0" y2="2200.2" stroke="#148a41" stroke-width="5.0"/>
<circle cx="1500.9" cy="2374.2" r="4.3" fill="#5a5a5a" fill-opacity="0.62"/>
<circle cx="1512.2" cy="2374.2" r="4.3" fill="#5a5a5a" fill-opacity="0.62"/>
<circle cx="1523.5" cy="2374.2" r="4.3" fill="#5a5a5a" fill-opacity="0.62"/>
<line x1="1492.2" y1="2374.6" x2="1532.1" y2="2374.6" stroke="#000000" stroke-width="5.0"/>
<rect x="1549.3" y="2368.1" width="39.9" height="25.6" fill="#dddddd"/>
<circle cx="1580.9" cy="2368.1" r="4.3" fill="#5a5a5a" fill-opacity="0.62"/>
<circle cx="1569.4" cy="2393.7" r="4.3" fill="#5a5a5a" fill-opacity="0.62"/>
<circle cx="1558.2" cy="2382.5" r="4.3" fill="#5a5a5a" fill-opacity="0.62"/>
<line x1="1549.3" y1="2382.7" x2="1589.2" y2="2382.7" stroke="#000000" stroke-width="5.0"/>
<text x="1227.0" y="2111.6" font-size="43.5" fill="#e20a12" stroke="#e20a12" text-anchor="middle" style="stroke-width:0.8px">*</text>
<line x1="1643.1" y1="1960.0" x2="1643.1" y2="2423.9" stroke="#b2b2b2" stroke-width="3.2"/>
<line x1="1641.5" y1="2422.3" x2="2110.7" y2="2422.3" stroke="#b2b2b2" stroke-width="3.2"/>
<line x1="1636.9" y1="1974.5" x2="1643.1" y2="1974.5" stroke="#bcbcbc" stroke-width="1.6"/>
<line x1="1636.9" y1="2079.8" x2="1643.1" y2="2079.8" stroke="#bcbcbc" stroke-width="1.6"/>
<line x1="1636.9" y1="2185.5" x2="1643.1" y2="2185.5" stroke="#bcbcbc" stroke-width="1.6"/>
<line x1="1636.9" y1="2290.9" x2="1643.1" y2="2290.9" stroke="#bcbcbc" stroke-width="1.6"/>
<line x1="1636.9" y1="2396.2" x2="1643.1" y2="2396.2" stroke="#bcbcbc" stroke-width="1.6"/>
<text x="0.0" y="0.0" font-size="38.5" fill="#000" stroke="#000" text-anchor="end" transform="translate(1632.8 1983.7) scale(0.92 1)">5</text>
<text x="0.0" y="0.0" font-size="38.5" fill="#000" stroke="#000" text-anchor="end" transform="translate(1632.8 2090.2) scale(0.92 1)">4</text>
<text x="0.0" y="0.0" font-size="38.5" fill="#000" stroke="#000" text-anchor="end" transform="translate(1632.8 2196.7) scale(0.92 1)">3</text>
<text x="0.0" y="0.0" font-size="38.5" fill="#000" stroke="#000" text-anchor="end" transform="translate(1632.8 2303.2) scale(0.92 1)">2</text>
<text x="0.0" y="0.0" font-size="38.5" fill="#000" stroke="#000" text-anchor="end" transform="translate(1632.8 2409.7) scale(0.92 1)">1</text>
<text x="1894.5" y="1929.8" font-size="38.5" text-anchor="middle" stroke="#000">p<tspan font-style="italic">TMO5</tspan>::TMO5-GR</text>
<line x1="1676.4" y1="2422.3" x2="1676.4" y2="2428.4" stroke="#c0c0c0" stroke-width="1.5"/>
<text x="1676.4" y="2463.8" font-size="39" fill="#000" stroke="#000" text-anchor="middle" style="stroke-width:1.0px">-</text>
<line x1="1733.5" y1="2422.3" x2="1733.5" y2="2428.4" stroke="#c0c0c0" stroke-width="1.5"/>
<text x="1733.5" y="2463.8" font-size="39" fill="#000" stroke="#000" text-anchor="middle" style="stroke-width:1.0px">+</text>
<line x1="1790.6" y1="2422.3" x2="1790.6" y2="2428.4" stroke="#c0c0c0" stroke-width="1.5"/>
<text x="1790.6" y="2463.8" font-size="39" fill="#000" stroke="#000" text-anchor="middle" style="stroke-width:1.0px">-</text>
<line x1="1847.7" y1="2422.3" x2="1847.7" y2="2428.4" stroke="#c0c0c0" stroke-width="1.5"/>
<text x="1847.7" y="2463.8" font-size="39" fill="#000" stroke="#000" text-anchor="middle" style="stroke-width:1.0px">+</text>
<line x1="1904.8" y1="2422.3" x2="1904.8" y2="2428.4" stroke="#c0c0c0" stroke-width="1.5"/>
<text x="1904.8" y="2463.8" font-size="39" fill="#000" stroke="#000" text-anchor="middle" style="stroke-width:1.0px">-</text>
<line x1="1961.9" y1="2422.3" x2="1961.9" y2="2428.4" stroke="#c0c0c0" stroke-width="1.5"/>
<text x="1961.9" y="2463.8" font-size="39" fill="#000" stroke="#000" text-anchor="middle" style="stroke-width:1.0px">+</text>
<line x1="2019.0" y1="2422.3" x2="2019.0" y2="2428.4" stroke="#c0c0c0" stroke-width="1.5"/>
<text x="2019.0" y="2463.8" font-size="39" fill="#000" stroke="#000" text-anchor="middle" style="stroke-width:1.0px">-</text>
<line x1="2076.1" y1="2422.3" x2="2076.1" y2="2428.4" stroke="#c0c0c0" stroke-width="1.5"/>
<text x="2076.1" y="2463.8" font-size="39" fill="#000" stroke="#000" text-anchor="middle" style="stroke-width:1.0px">+</text>
<circle cx="1665.1" cy="2395.9" r="4.3" fill="#f87c7c" fill-opacity="0.85"/>
<circle cx="1676.4" cy="2395.9" r="4.3" fill="#f87c7c" fill-opacity="0.85"/>
<circle cx="1687.7" cy="2395.9" r="4.3" fill="#f87c7c" fill-opacity="0.85"/>
<line x1="1656.5" y1="2396.3" x2="1696.4" y2="2396.3" stroke="#e8080e" stroke-width="5.0"/>
<rect x="1713.5" y="1981.4" width="39.9" height="302.7" fill="#dddddd"/>
<circle cx="1740.2" cy="1981.4" r="4.3" fill="#f87c7c" fill-opacity="0.85"/>
<circle cx="1733.4" cy="2284.1" r="4.3" fill="#f87c7c" fill-opacity="0.85"/>
<circle cx="1722.2" cy="2237.5" r="4.3" fill="#f87c7c" fill-opacity="0.85"/>
<line x1="1713.5" y1="2237.7" x2="1753.5" y2="2237.7" stroke="#e8080e" stroke-width="5.0"/>
<circle cx="1779.3" cy="2395.9" r="4.3" fill="#8484f2" fill-opacity="0.70"/>
<circle cx="1790.6" cy="2395.9" r="4.3" fill="#8484f2" fill-opacity="0.70"/>
<circle cx="1801.9" cy="2395.9" r="4.3" fill="#8484f2" fill-opacity="0.70"/>
<line x1="1770.7" y1="2396.3" x2="1810.6" y2="2396.3" stroke="#0505d6" stroke-width="5.0"/>
<rect x="1827.8" y="2248.7" width="39.9" height="99.8" fill="#dddddd"/>
<circle cx="1853.9" cy="2248.7" r="4.3" fill="#8484f2" fill-opacity="0.70"/>
<circle cx="1847.7" cy="2351.9" r="4.3" fill="#8484f2" fill-opacity="0.70"/>
<circle cx="1836.6" cy="2347.2" r="4.3" fill="#8484f2" fill-opacity="0.70"/>
<line x1="1827.8" y1="2348.1" x2="1867.7" y2="2348.1" stroke="#0505d6" stroke-width="5.0"/>
<circle cx="1893.5" cy="2395.9" r="4.3" fill="#5cb884" fill-opacity="0.62"/>
<circle cx="1904.8" cy="2395.9" r="4.3" fill="#5cb884" fill-opacity="0.62"/>
<circle cx="1916.1" cy="2395.9" r="4.3" fill="#5cb884" fill-opacity="0.62"/>
<line x1="1884.9" y1="2396.3" x2="1924.8" y2="2396.3" stroke="#148a41" stroke-width="5.0"/>
<rect x="1942.0" y="2245.8" width="39.9" height="156.2" fill="#dddddd"/>
<circle cx="1973.7" cy="2245.8" r="4.3" fill="#5cb884" fill-opacity="0.62"/>
<circle cx="1961.8" cy="2402.0" r="4.3" fill="#5cb884" fill-opacity="0.62"/>
<circle cx="1950.6" cy="2308.2" r="4.3" fill="#5cb884" fill-opacity="0.62"/>
<line x1="1942.0" y1="2308.4" x2="1981.9" y2="2308.4" stroke="#148a41" stroke-width="5.0"/>
<circle cx="2007.7" cy="2395.9" r="4.3" fill="#5a5a5a" fill-opacity="0.62"/>
<circle cx="2019.0" cy="2395.9" r="4.3" fill="#5a5a5a" fill-opacity="0.62"/>
<circle cx="2030.3" cy="2395.9" r="4.3" fill="#5a5a5a" fill-opacity="0.62"/>
<line x1="1999.0" y1="2396.3" x2="2039.0" y2="2396.3" stroke="#000000" stroke-width="5.0"/>
<rect x="2056.2" y="2301.4" width="39.9" height="29.6" fill="#dddddd"/>
<circle cx="2087.7" cy="2301.4" r="4.3" fill="#5a5a5a" fill-opacity="0.62"/>
<circle cx="2076.1" cy="2331.0" r="4.3" fill="#5a5a5a" fill-opacity="0.62"/>
<circle cx="2064.9" cy="2319.4" r="4.3" fill="#5a5a5a" fill-opacity="0.62"/>
<line x1="2056.2" y1="2319.6" x2="2096.0" y2="2319.6" stroke="#000000" stroke-width="5.0"/>
<text x="2075.5" y="2294.2" font-size="43.5" fill="#000" stroke="#000" text-anchor="middle" style="stroke-width:0.8px">*</text>
</svg>
</body>
</html>
